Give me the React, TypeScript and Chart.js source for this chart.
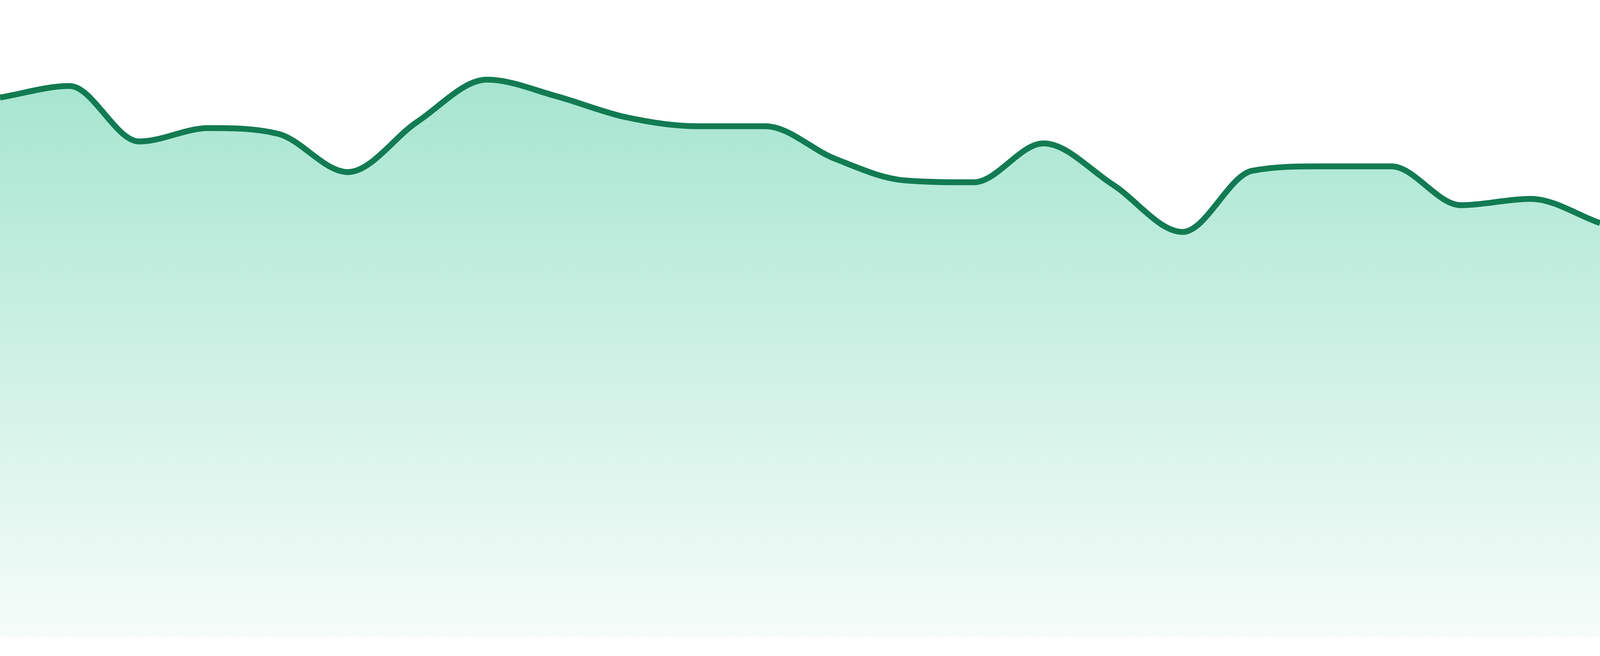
import { useEffect, useRef } from "react";
import { Chart, registerables } from "chart.js";

Chart.register(...registerables);

// 24 daily samples (axes are hidden)
const days = [
  "01", "02", "03", "04", "05", "06", "07", "08", "09", "10", "11", "12",
  "13", "14", "15", "16", "17", "18", "19", "20", "21", "22", "23", "24",
];

const values = [
  84.7, 86.5, 77.8, 79.9, 79.0, 73.0, 80.9, 87.5, 84.9, 81.6, 80.2, 80.2,
  75.1, 71.7, 71.4, 77.5, 71.0, 63.6, 73.2, 73.9, 73.9, 67.8, 68.8, 65.0,
];

const yMin = 0;
const yMax = 100;

const LINE_COLOR = "#127b52";

export default function App() {
  const canvasRef = useRef<HTMLCanvasElement | null>(null);

  useEffect(() => {
    if (!canvasRef.current) return;
    const ctx = canvasRef.current.getContext("2d");
    if (!ctx) return;

    // sizes are given for a 1680px tall picture; scale to the real page height
    const k = window.innerHeight / 1680;

    const chart = new Chart(ctx, {
      type: "line",
      data: {
        labels: days,
        datasets: [
          {
            data: values,
            borderColor: LINE_COLOR,
            borderWidth: 15 * k,
            pointRadius: 0,
            cubicInterpolationMode: "monotone",
            fill: "origin",
            backgroundColor: (context) => {
              const { chartArea } = context.chart;
              if (!chartArea) return "rgba(16, 185, 129, 0.2)";
              const g = context.chart.ctx.createLinearGradient(
                0,
                chartArea.top,
                0,
                chartArea.bottom,
              );
              g.addColorStop(0, "rgba(16, 185, 129, 0.42)");
              g.addColorStop(1, "rgba(16, 185, 129, 0.04)");
              return g;
            },
          },
        ],
      },
      options: {
        responsive: true,
        maintainAspectRatio: false,
        animation: false,
        layout: { padding: { top: 0, left: 0, right: 0, bottom: 48 * k } },
        plugins: {
          legend: { display: false },
          tooltip: { enabled: false },
        },
        scales: {
          x: { display: false },
          y: { display: false, min: yMin, max: yMax },
        },
      },
    });

    return () => {
      chart.destroy();
    };
  }, []);

  return (
    <div
      style={{
        position: "fixed",
        left: 0,
        top: 0,
        width: "100vw",
        height: "100vh",
        background: "#ffffff",
      }}
    >
      <canvas ref={canvasRef} />
    </div>
  );
}
